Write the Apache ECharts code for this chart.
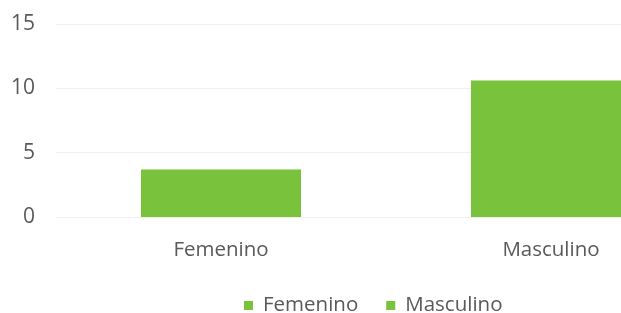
<!DOCTYPE html>
<html>
<head>
<meta charset="utf-8">
<script src="https://cdn.jsdelivr.net/npm/echarts@6/dist/echarts.min.js"></script>
<style>
  html, body { margin: 0; padding: 0; background: #fff; overflow: hidden; }
  /* the original chart is wider than the picture and cut on the right */
  #eChart { width: 716px; height: 313px; }
</style>
</head>
<body>
<div id="eChart"></div>
<script>
// values
var categories = ['Femenino', 'Masculino'];
var femenino = [3.7, '-'];
var masculino = ['-', 10.6];
var yTicks = [0, 5, 10, 15];

var green = '#79c23c';
var textColor = '#595959';

var option = {
    animation: false,
    textStyle: { fontFamily: 'Open Sans' },
    grid: {
        left: 56,
        right: 0,
        top: 24,
        bottom: 96
    },
    legend: {
        left: 239,
        top: 290,
        itemWidth: 9,
        itemHeight: 9,
        itemGap: 28,
        icon: 'rect',
        textStyle: { fontSize: 20.5, color: textColor, padding: [0, 0, 0, 5] },
        data: ['Femenino', 'Masculino']
    },
    xAxis: {
        type: 'category',
        data: categories,
        axisLine: { show: false },
        axisTick: { show: false },
        axisLabel: { fontSize: 20.5, color: textColor, margin: 23 }
    },
    yAxis: {
        type: 'value',
        min: yTicks[0],
        max: yTicks[yTicks.length - 1],
        interval: 5,
        axisLabel: { fontSize: 21, color: textColor, margin: 21 },
        splitLine: { lineStyle: { color: '#efefef', width: 1 } }
    },
    series: [
        {
            name: 'Femenino',
            type: 'bar',
            stack: 'g',
            barWidth: 160,
            itemStyle: { color: green },
            data: femenino
        },
        {
            name: 'Masculino',
            type: 'bar',
            stack: 'g',
            barWidth: 160,
            itemStyle: { color: green },
            data: masculino
        }
    ]
};

var chart = echarts.init(document.getElementById('eChart'));
chart.setOption(option);
</script>
</body>
</html>
